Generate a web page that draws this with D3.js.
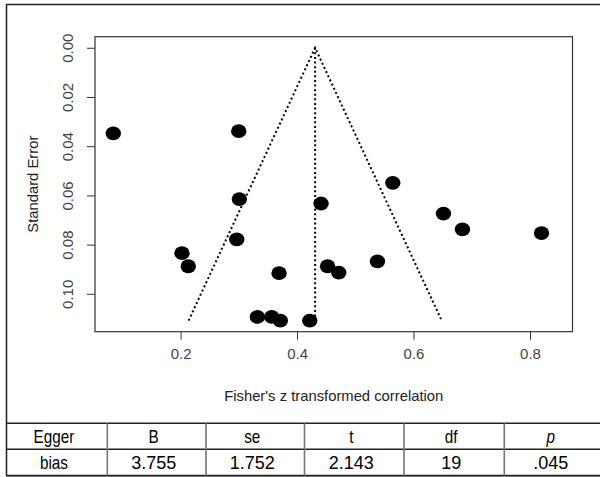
<!DOCTYPE html>
<html>
<head>
<meta charset="utf-8">
<script src="https://cdn.jsdelivr.net/npm/d3@7"></script>
<style>
  html, body { margin: 0; padding: 0; background: #fff; }
  svg { display: block; }
  text { font-family: "Liberation Sans", Arial, Helvetica, sans-serif; }
</style>
</head>
<body>
<svg id="chart" width="600" height="477"></svg>
<script>
// Study effects (Fisher's z) and their standard errors
const fisherZ = [0.0844, 0.2998, 0.3009, 0.2964, 0.2024, 0.2132, 0.3691, 0.3318, 0.3565, 0.3713,
                 0.4412, 0.5644, 0.6514, 0.6840, 0.8198, 0.4218, 0.4524, 0.4716, 0.5380];
const stdErr  = [0.0348, 0.0339, 0.0615, 0.0779, 0.0835, 0.0888, 0.0916, 0.1094, 0.1094, 0.1109,
                 0.0633, 0.0549, 0.0674, 0.0738, 0.0753, 0.1109, 0.0888, 0.0914, 0.0868];

// Pooled estimate and axis limits
const pooled = 0.431;
const xLimits = [0.053, 0.873];
const seLimits = [-0.0045, 0.1154];
const xTicks = [0.2, 0.4, 0.6, 0.8];
const yTicks = [0.00, 0.02, 0.04, 0.06, 0.08, 0.10];

// Egger regression test table
const tableHeader = ["Egger", "B", "se", "t", "df", "p"];
const tableRow    = ["bias", "3.755", "1.752", "2.143", "19", ".045"];

const svg = d3.select("#chart");

// Plot region
const plot = { left: 95, right: 572.5, top: 36.7, bottom: 331.7 };

const x = d3.scaleLinear().domain(xLimits).range([plot.left, plot.right]);
const y = d3.scaleLinear().domain(seLimits).range([plot.top, plot.bottom]);

// Outer frame around figure and table
svg.append("rect")
  .attr("x", 6.5).attr("y", 4.5)
  .attr("width", 600).attr("height", 471)
  .attr("fill", "none").attr("stroke", "#222").attr("stroke-width", 1.5);

// Funnel: pseudo 95% confidence limits and pooled-effect line
const seMax = d3.max(stdErr);
const funnel = [
  [[pooled - 1.96 * seMax, seMax], [pooled, 0], [pooled + 1.96 * seMax, seMax]],
  [[pooled, 0], [pooled, seMax]]
];
const line = d3.line().x(d => x(d[0])).y(d => y(d[1]));
svg.append("g").selectAll("path")
  .data(funnel)
  .join("path")
  .attr("d", line)
  .attr("fill", "none")
  .attr("stroke", "#000")
  .attr("stroke-width", 2)
  .attr("stroke-dasharray", "2,2.6");

// Study points
svg.append("g").selectAll("ellipse")
  .data(fisherZ.map((v, i) => [v, stdErr[i]]))
  .join("ellipse")
  .attr("cx", d => x(d[0]))
  .attr("cy", d => y(d[1]))
  .attr("rx", 7.7).attr("ry", 6.9)
  .attr("fill", "#000");

// Plot box
svg.append("rect")
  .attr("x", plot.left).attr("y", plot.top)
  .attr("width", plot.right - plot.left).attr("height", plot.bottom - plot.top)
  .attr("fill", "none").attr("stroke", "#333").attr("stroke-width", 1.2);

// X axis
const xAxis = d3.axisBottom(x).tickValues(xTicks).tickFormat(d3.format(".1f"))
  .tickSizeOuter(0).tickSizeInner(8).tickPadding(9);
const gx = svg.append("g").attr("transform", `translate(0,${plot.bottom})`).call(xAxis);
gx.select(".domain").remove();
gx.selectAll(".tick line").attr("stroke", "#333");
gx.selectAll(".tick text").attr("font-size", 15).attr("fill", "#444")
  .attr("font-family", "Liberation Sans, Arial, sans-serif");

// Y axis with rotated labels
const yAxis = d3.axisLeft(y).tickValues(yTicks).tickFormat(d3.format(".2f"))
  .tickSizeOuter(0).tickSizeInner(8).tickPadding(0);
const gy = svg.append("g").attr("transform", `translate(${plot.left},0)`).call(yAxis);
gy.select(".domain").remove();
gy.selectAll(".tick line").attr("stroke", "#333");
gy.selectAll(".tick text")
  .attr("font-size", 15).attr("fill", "#444")
  .attr("font-family", "Liberation Sans, Arial, sans-serif")
  .attr("text-anchor", "middle")
  .attr("x", null).attr("dy", null)
  .attr("transform", "translate(-22.5,0) rotate(-90)");

// Axis titles
svg.append("text")
  .attr("x", (plot.left + plot.right) / 2).attr("y", 401)
  .attr("text-anchor", "middle").attr("font-size", 14.8).attr("fill", "#222")
  .text("Fisher's z transformed correlation");

svg.append("text")
  .attr("transform", `translate(37.5,${(plot.top + plot.bottom) / 2}) rotate(-90)`)
  .attr("text-anchor", "middle").attr("font-size", 14.8).attr("fill", "#222")
  .text("Standard Error");

// Table
const colEdges = [6.5, 107.3, 206, 304.5, 404, 504.3, 603];
const rowEdges = [423.3, 449.3, 475.7];

const table = svg.append("g");
rowEdges.forEach(r => {
  table.append("line")
    .attr("x1", 6.5).attr("x2", 600).attr("y1", r).attr("y2", r)
    .attr("stroke", "#222").attr("stroke-width", 1.5);
});
colEdges.slice(1, -1).forEach(c => {
  table.append("line")
    .attr("x1", c).attr("x2", c).attr("y1", rowEdges[0]).attr("y2", rowEdges[2])
    .attr("stroke", "#777").attr("stroke-width", 1.6);
});

// Cell text: words are set in a narrower face than the figures
const isNumber = s => /^[.\d]+$/.test(s);
[tableHeader, tableRow].forEach((row, ri) => {
  table.selectAll(null)
    .data(row)
    .join("text")
    .attr("transform", (d, i) => {
      const cx = (colEdges[i] + colEdges[i + 1]) / 2 - 3;
      const cy = (rowEdges[ri] + rowEdges[ri + 1]) / 2 + 6.8;
      return `translate(${cx},${cy}) scale(${isNumber(d) ? 1 : 0.85},1)`;
    })
    .attr("text-anchor", "middle")
    .attr("font-size", 18)
    .attr("fill", "#000")
    .attr("font-style", (d, i) => (ri === 0 && i === row.length - 1) ? "italic" : null)
    .text(d => d);
});
</script>
</body>
</html>
